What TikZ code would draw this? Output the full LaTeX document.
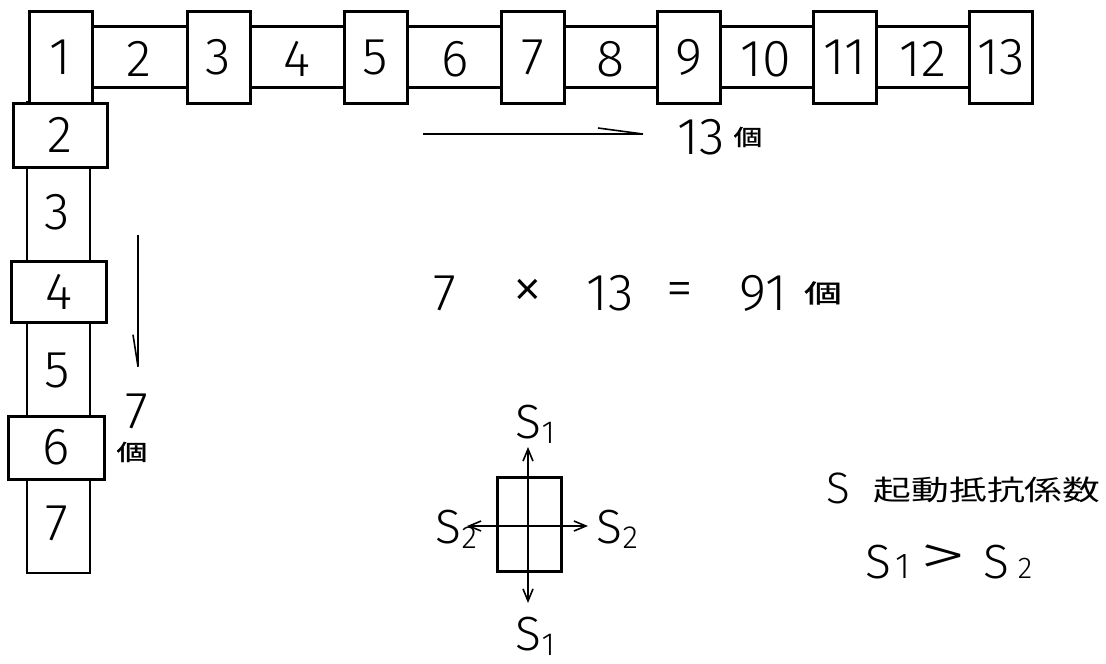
\documentclass[tikz,border=0pt]{standalone}
\usepackage{fontspec}
\setmainfont{Fira Sans}[UprightFont={* Light}]
\newfontfamily\cjk{Noto Sans CJK JP}
\newfontfamily\cjkb{Noto Sans CJK JP}[FakeBold=1.5]
\usetikzlibrary{arrows.meta}
\newcommand\numsz{\fontsize{52}{52}\selectfont}
\newcommand\Ssb[1]{S\kern0.5pt\raisebox{-5pt}{\fontsize{32}{32}\selectfont #1}}
\newcommand\ko[2]{{\cjkb\fontsize{#1}{#1}\selectfont\scalebox{#2}[1]{個}}}
\tikzset{sbarb/.tip={Straight Barb[length=12pt,width=10pt]}}
\begin{document}
\begin{tikzpicture}[x=1pt,y=-1pt,
  bx/.style={draw, line width=3pt, fill=white, inner sep=0pt, font=\numsz},
  lab/.style={inner sep=0pt, font=\numsz},
  slab/.style={inner sep=0pt, anchor=base, font=\fontsize{48}{48}\selectfont},
  strip/.style={line width=2.4pt},
  arr/.style={line width=1.6pt},
]
\useasboundingbox (0,0) rectangle (1106,664);
% strips
\draw[strip] (92,26.5) rectangle (969,87.5);
\draw[strip] (27,102) rectangle (90,573);
% top row
\foreach \n/\x in {1/60.5,3/218.5,5/375.5,7/532.5,9/688.5,11/845,13/1001}
  \node[bx, minimum width=63pt, minimum height=92pt] (t\n) at (\x,57) {\n};
\foreach \n/\x in {2/139,4/297,6/455,8/610,10/766,12/923}
  \node[lab] (t\n) at (\x,59) {\n};
% column
\node[bx, minimum width=94pt, minimum height=64pt] (c2) at (60,135) {2};
\node[bx, minimum width=95pt, minimum height=61pt] (c4) at (58.5,291.5) {4};
\node[bx, minimum width=96pt, minimum height=63pt] (c6) at (56,447.5) {6};
\node[lab] (c3) at (57,212) {3};
\node[lab] (c5) at (57,370) {5};
\node[lab] (c7) at (57,523) {7};
% horizontal count arrow
\coordinate (h1) at (423,134);
\coordinate (h2) at (655,134);
\draw[arr, -{Straight Barb[harpoon,length=45pt,width=12pt]}] (h1) -- (h2);
\node[lab] (n13) at (701,137) {13};
\node[inner sep=0pt] (k13) at (748,137) {\ko{22}{1.3}};
% vertical count arrow
\coordinate (v1) at (138,235);
\coordinate (v2) at (138,377);
\draw[arr, -{Straight Barb[harpoon,swap,length=32pt,width=10pt]}] (v1) -- (v2);
\node[lab] (n7) at (137,411) {7};
\node[inner sep=0pt] (k7) at (132,452) {\ko{22}{1.4}};
% formula
\node[lab] (f7) at (445,293) {7};
\node[lab, font=\fontsize{62}{62}\selectfont] (fx) at (528,294) {×};
\node[lab] (f13) at (610,293) {13};
\node[lab, font=\fontsize{54}{54}\selectfont] (feq) at (680,295) {=};
\node[lab] (f91) at (763,293) {91};
\node[inner sep=0pt] (fk) at (823,293) {\ko{25}{1.5}};
% element with coefficients
\node[draw, line width=3pt, minimum width=64pt, minimum height=94pt, inner sep=0pt] (el) at (529,524) {};
\coordinate (vt) at (528,447);
\coordinate (vb) at (528,603);
\coordinate (hl) at (467,526);
\coordinate (hr) at (588,526);
\draw[arr, sbarb-sbarb] (vt) -- (vb);
\draw[arr, sbarb-sbarb] (hl) -- (hr);
\node[slab] (s1t) at (535,438) {\Ssb{1}};
\node[slab] (s2l) at (456,543) {\Ssb{2}};
\node[slab] (s2r) at (617,543) {\Ssb{2}};
\node[slab] (s1b) at (535,650) {\Ssb{1}};
% legend
\node[slab, font=\fontsize{44}{44}\selectfont] (sl) at (838,503) {S};
\node[inner sep=0pt, font=\cjk\fontsize{28}{28}\selectfont] (kj) at (987,490) {\scalebox{1.35}[1]{起動抵抗係数}};
\node[slab] (c1) at (888,578) {S\kern4pt{\fontsize{36}{36}\selectfont 1}};
\node[inner sep=0pt, font=\fontsize{56}{56}\selectfont] (gt) at (943,560) {\scalebox{1.7}[1]{>}};
\node[slab] (c2s) at (1008,578) {S\kern8pt{\fontsize{30}{30}\selectfont 2}};
\end{tikzpicture}
\end{document}
